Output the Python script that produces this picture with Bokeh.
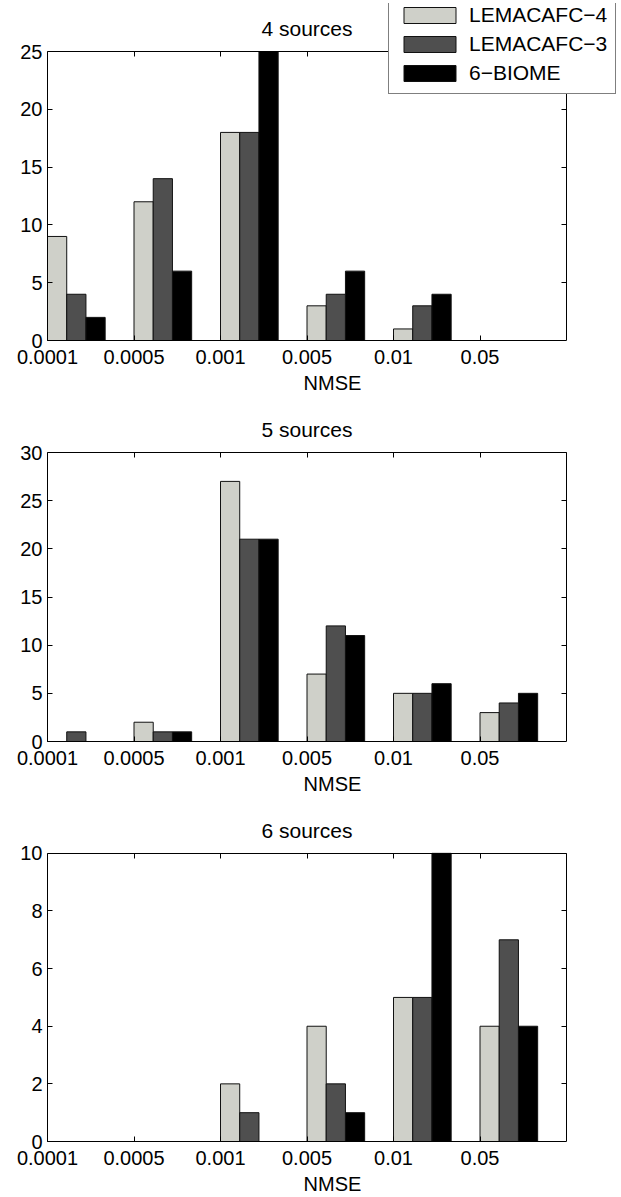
from bokeh.plotting import figure
from bokeh.models import (Range1d, FixedTicker, LinearAxis, Legend, Label,
                          LegendItem, ColumnDataSource)
from bokeh.layouts import column
from bokeh.embed import file_html
from bokeh.resources import INLINE

# ---------------- data ----------------
bins = ["0.0001", "0.0005", "0.001", "0.005", "0.01", "0.05"]
series_names = ["LEMACAFC\u22124", "LEMACAFC\u22123", "6\u2212BIOME"]
titles = ["4 sources", "5 sources", "6 sources"]

src4_lemacafc4 = [9, 12, 18, 3, 1, 0]
src4_lemacafc3 = [4, 14, 18, 4, 3, 0]
src4_biome6 = [2, 6, 25, 6, 4, 0]

src5_lemacafc4 = [0, 2, 27, 7, 5, 3]
src5_lemacafc3 = [1, 1, 21, 12, 5, 4]
src5_biome6 = [0, 1, 21, 11, 6, 5]

src6_lemacafc4 = [0, 0, 2, 4, 5, 4]
src6_lemacafc3 = [0, 0, 1, 2, 5, 7]
src6_biome6 = [0, 0, 0, 1, 10, 4]

y_max = [25, 30, 10]
y_step = [5, 5, 2]

# ---------------- layout / style ----------------
FONT = "Liberation Sans"
FS = "20px"
FS_BIG = "21px"
colors = ["#cfd0c9", "#4f4f4f", "#000000"]
W = 621
LEFT = 47          # box left (px)
BOX_RIGHT = 566    # box right (px)
FRAME_RIGHT = 617  # frame extends beyond box so the legend is not clipped
TOP = 3            # frame top (px, relative to figure)
BOX_TOP = 51       # box top (px, relative to figure)
BOX_BOTTOM = 340   # box bottom == frame bottom


def make_panel(title, series, ymax, ystep, height, legend):
    nb = len(bins)
    box_h = BOX_BOTTOM - BOX_TOP
    y_end = ymax * (BOX_BOTTOM - TOP) / box_h
    x_end = nb * (FRAME_RIGHT - LEFT) / (BOX_RIGHT - LEFT)
    p = figure(width=W, height=height, x_range=Range1d(0, x_end),
               y_range=Range1d(0, y_end), output_backend="svg",
               toolbar_location=None, min_border_left=LEFT,
               min_border_right=W - FRAME_RIGHT, min_border_top=TOP,
               min_border_bottom=height - BOX_BOTTOM)
    p.xgrid.visible = False
    p.ygrid.visible = False
    p.outline_line_color = None
    p.background_fill_color = "white"
    p.border_fill_color = "white"

    renderers = []
    for k, vals in enumerate(series):
        src = ColumnDataSource(dict(x=[i + (2 * k + 1) / 9 for i in range(nb)],
                                    top=vals))
        r = p.vbar(x="x", top="top", bottom=0, width=2 / 9, source=src,
                   fill_color=colors[k], line_color="#111111", line_width=1)
        renderers.append(r)

    xt = FixedTicker(ticks=list(range(nb)))
    yt = FixedTicker(ticks=list(range(0, ymax + 1, ystep)))

    xa = p.xaxis[0]
    xa.ticker = xt
    xa.bounds = (0, nb)
    xa.major_label_overrides = {i: b for i, b in enumerate(bins)}
    xa.axis_label = "NMSE"
    xa.axis_label_text_font = FONT
    xa.axis_label_text_font_size = FS
    xa.axis_label_text_font_style = "normal"
    xa.axis_label_text_color = "black"
    xa.axis_label_standoff = 5
    ya = p.yaxis[0]
    ya.ticker = yt
    ya.bounds = (0, ymax)
    for ax in (xa, ya):
        ax.major_tick_in = 5
        ax.major_tick_out = 0
        ax.minor_tick_line_color = None
        ax.axis_line_color = "black"
        ax.major_tick_line_color = "black"
        ax.major_label_text_font = FONT
        ax.major_label_text_font_size = FS
        ax.major_label_text_color = "black"
    xa.major_label_standoff = 9
    ya.major_label_standoff = 5

    # top and right edges of the box, with inward ticks
    for loc, tk, fixed, bnd in (("right", yt, nb, (0, ymax)),
                                ("above", xt, ymax, (0, nb))):
        ax2 = LinearAxis(ticker=tk, major_tick_in=5, major_tick_out=0,
                         fixed_location=fixed, bounds=bnd,
                         minor_tick_line_color=None, axis_line_color="black",
                         major_tick_line_color="black",
                         major_label_text_font_size="1px",
                         major_label_text_color=None,
                         major_label_standoff=0)
        p.add_layout(ax2, loc)

    p.add_layout(Label(x=nb / 2, y=ymax + 23 * ymax / box_h, text=title,
                       text_align="center", text_baseline="middle",
                       text_font=FONT, text_font_size=FS_BIG, text_color="black"))

    if legend:
        items = [LegendItem(label=n, renderers=[r]) for n, r in zip(series_names, renderers)]
        lg = Legend(items=items, location=(388 - LEFT, BOX_BOTTOM - 94),
                    glyph_width=65, glyph_height=20,
                    label_text_font=FONT, label_text_font_size=FS_BIG,
                    label_text_color="black", padding=8, spacing=5, margin=0,
                    label_standoff=7, label_height=20, label_width=136,
                    border_line_color="black", border_line_width=1,
                    background_fill_color="white", background_fill_alpha=1)
        p.add_layout(lg)
    return p


p1 = make_panel(titles[0], [src4_lemacafc4, src4_lemacafc3, src4_biome6],
                y_max[0], y_step[0], 401, True)
p2 = make_panel(titles[1], [src5_lemacafc4, src5_lemacafc3, src5_biome6],
                y_max[1], y_step[1], 401, False)
p3 = make_panel(titles[2], [src6_lemacafc4, src6_lemacafc3, src6_biome6],
                y_max[2], y_step[2], 395, False)

layout = column(p1, p2, p3, spacing=0)
open("out.html", "w").write(file_html(layout, INLINE))
